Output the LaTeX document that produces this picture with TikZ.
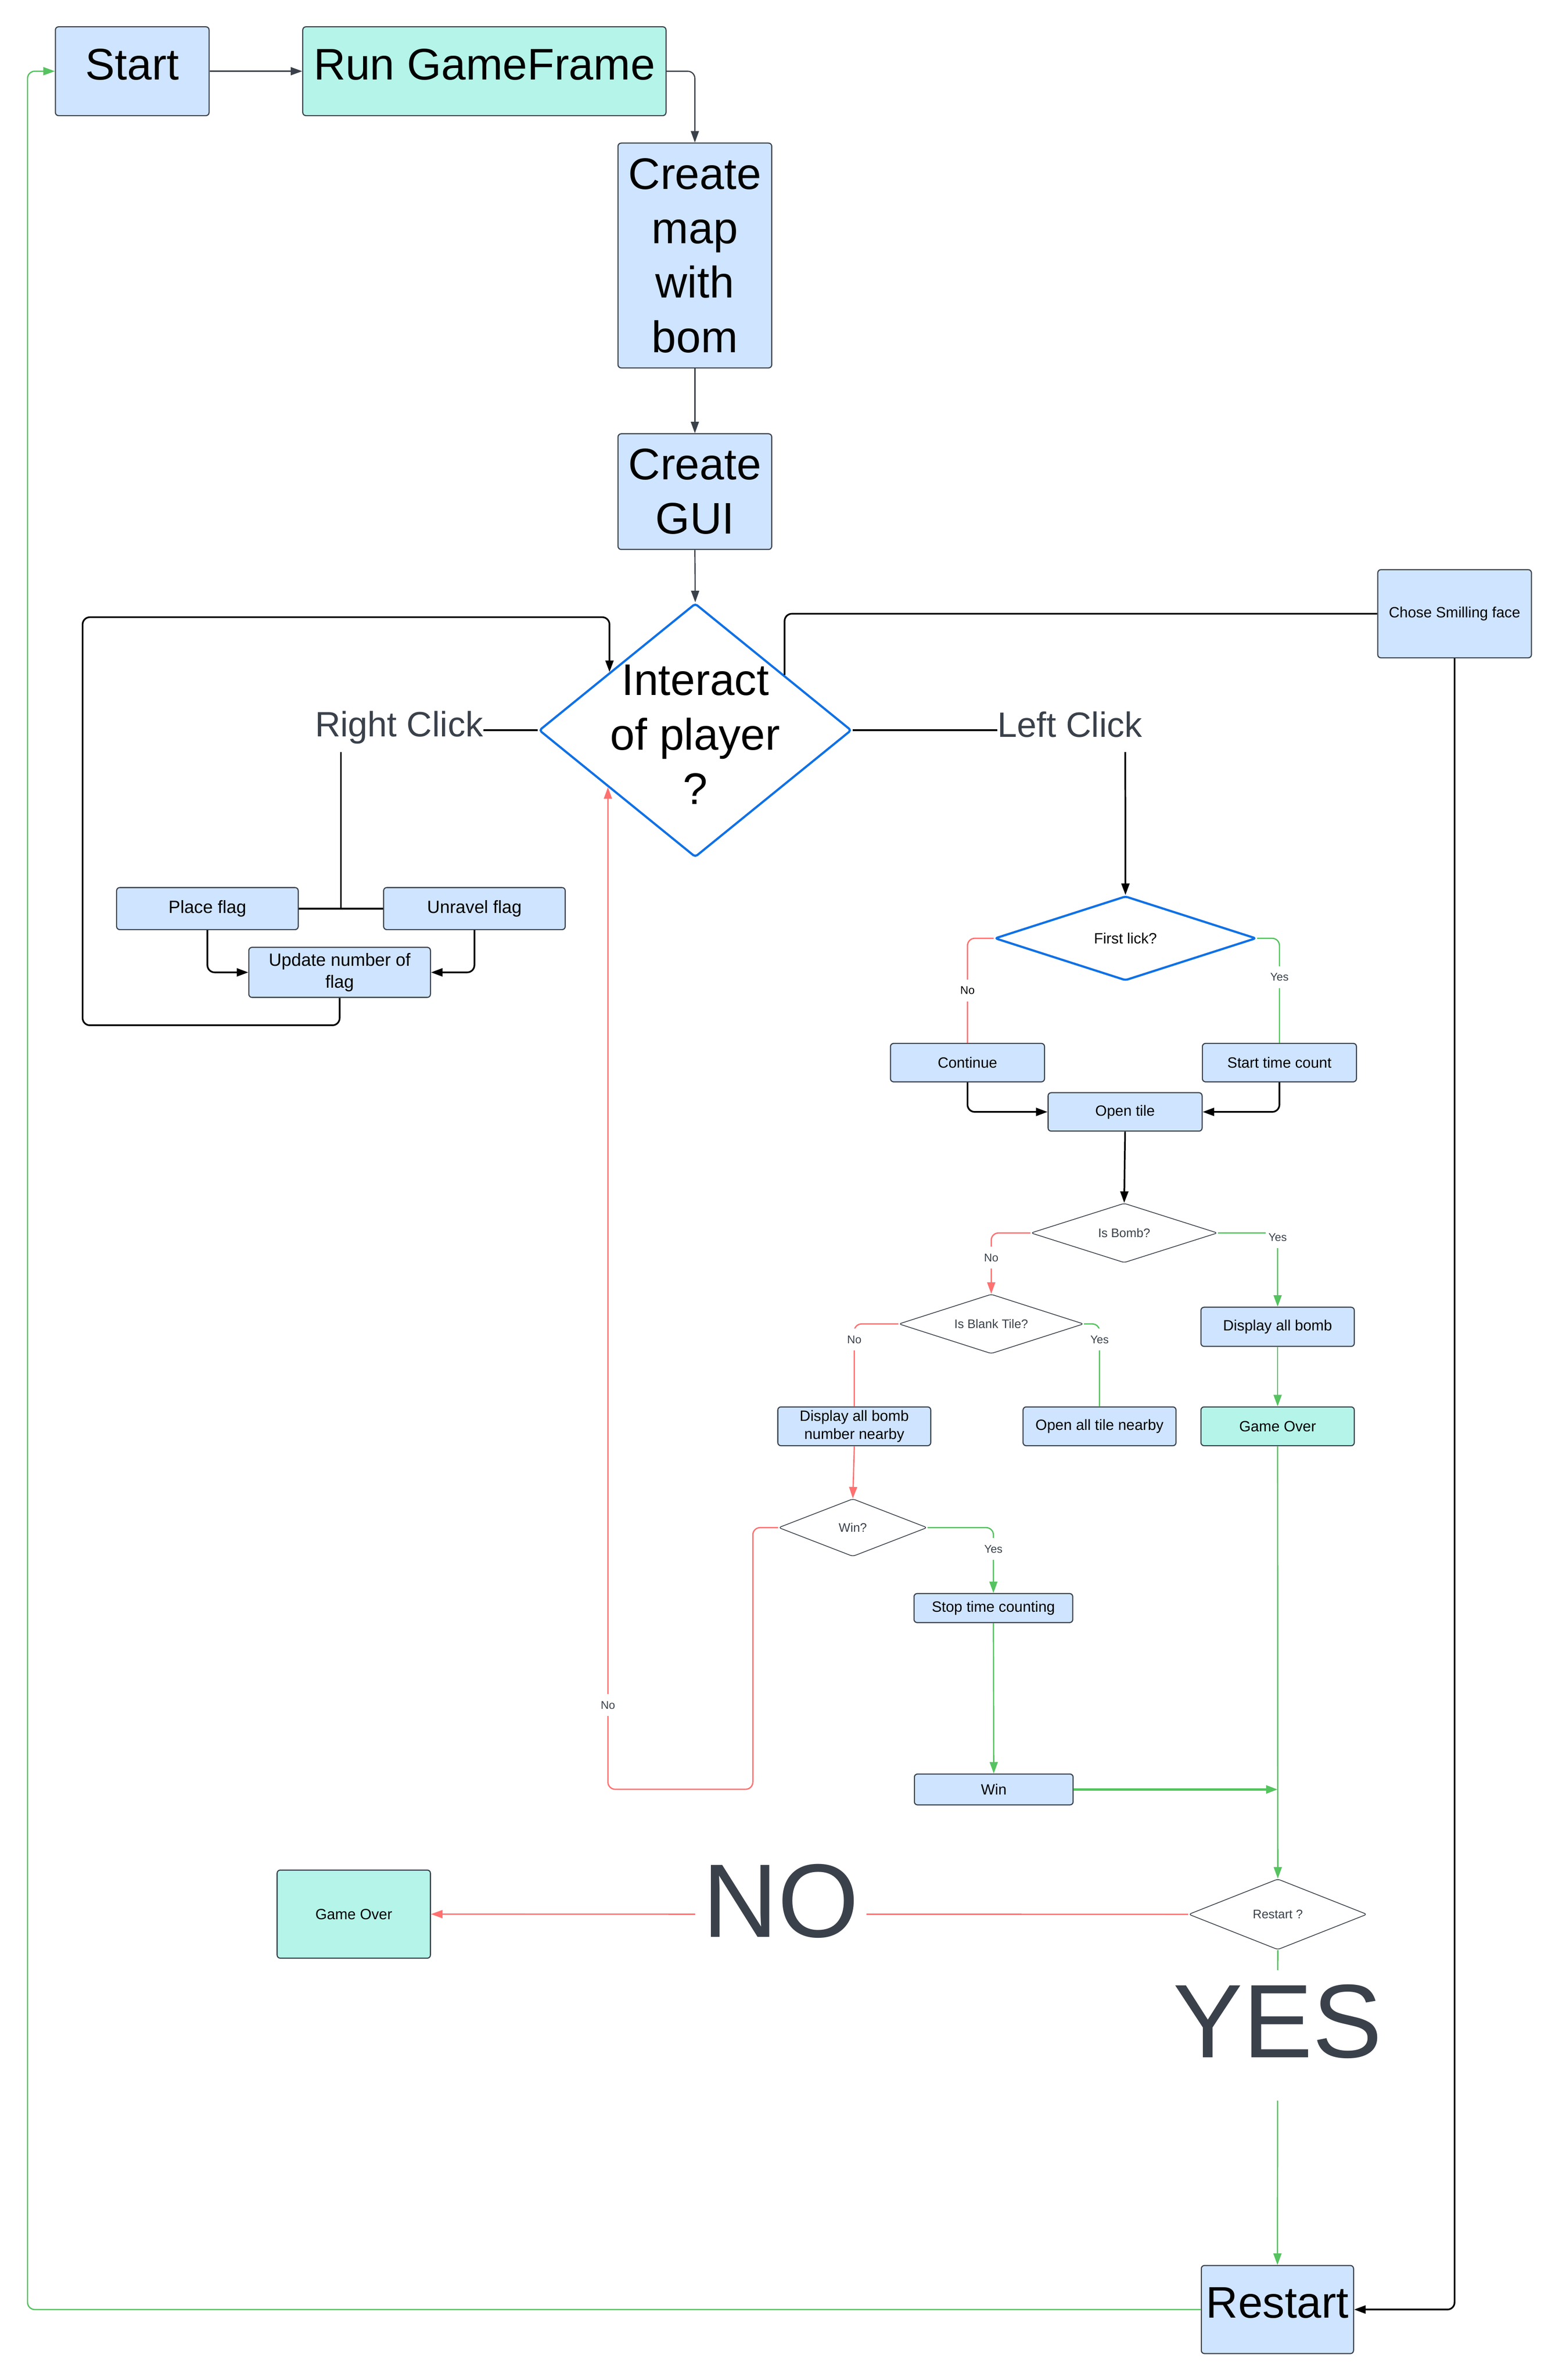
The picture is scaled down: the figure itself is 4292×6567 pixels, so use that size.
\documentclass[tikz,border=0pt]{standalone}
\usepackage{fontspec}
\setmainfont{Liberation Sans}
\usetikzlibrary{shapes.geometric,arrows.meta,calc}
\definecolor{boxblue}{HTML}{CFE4FF}
\definecolor{tealf}{HTML}{B4F4E9}
\definecolor{bord}{HTML}{3A414A}
\definecolor{dblue}{HTML}{1071E5}
\definecolor{lred}{HTML}{FF7070}
\definecolor{lgreen}{HTML}{55C35F}
\definecolor{txtgray}{HTML}{3A414A}
\tikzset{
 box/.style={rectangle, draw=bord, line width=0.85pt, fill=boxblue, rounded corners=2.5pt, inner sep=0pt, align=center, font=\fontsize{11.67}{14}\selectfont},
 tealbox/.style={box, fill=tealf},
 bigtxt/.style={font=\fontsize{34.7}{42.7}\selectfont},
 bigone/.style={text height=24.8pt, text depth=11.4pt},
 flagtxt/.style={font=\fontsize{13.9}{17}\selectfont},
 bdia/.style={diamond, draw=dblue, line width=1.7pt, fill=white, inner sep=0pt, rounded corners=2pt},
 gdia/.style={diamond, draw=bord, line width=0.6pt, fill=white, inner sep=0pt, rounded corners=2pt},
 dtxt/.style={text=txtgray, font=\fontsize{9.7}{12}\selectfont},
 elbl/.style={fill=white, inner xsep=2pt, inner ysep=5.5pt, text=txtgray, font=\fontsize{8.8}{10}\selectfont},
 tip/.style={-{Triangle[length=9pt,width=6.3pt]}},
 gline/.style={draw=bord, line width=0.9pt},
 kline/.style={draw=black, line width=1.3pt, rounded corners=0.2cm},
 rline/.style={draw=lred, line width=1pt, rounded corners=0.2cm},
 grline/.style={draw=lgreen, line width=1pt, rounded corners=0.2cm},
 bigword/.style={fill=white, inner xsep=0.2cm, inner ysep=0pt, text=txtgray, font=\fontsize{82}{90}\selectfont, text height=60pt, text depth=25.3pt},
}
\begin{document}
\begin{tikzpicture}[x=0.01cm, y=-0.01cm]
\useasboundingbox (0,0) rectangle (4292,6567);

% ---------- nodes ----------
\node[box, bigtxt, bigone, minimum width=4.24cm, minimum height=2.45cm] (start) at (365,196.5) {Start};
\node[tealbox, bigtxt, bigone, minimum width=10.02cm, minimum height=2.45cm] (run) at (1337,196.5) {Run GameFrame};
\node[box, bigtxt, minimum width=4.24cm, minimum height=6.2cm] (map) at (1918,705) {Create\\map\\with\\bom};
\node[box, bigtxt, minimum width=4.24cm, minimum height=3.19cm] (gui) at (1918,1356.5) {Create\\GUI};
\node[bdia, minimum width=8.62cm, minimum height=7cm, label={[bigtxt,align=center,yshift=-0.12cm]center:Interact\\of player\\?}] (interact) at (1919,2015) {};
\node[box, minimum width=4.24cm, minimum height=2.43cm] (chose) at (4015,1693.5) {Chose Smilling face};

\node[anchor=base east, inner sep=0pt, text=txtgray, font=\fontsize{27.6}{30}\selectfont] (rc) at (1334,2033) {Right Click};
\node[anchor=base west, inner sep=0pt, text=txtgray, font=\fontsize{27.6}{30}\selectfont] (lc) at (2753,2034) {Left Click};

\node[box, flagtxt, minimum width=5.01cm, minimum height=1.16cm] (place) at (572.5,2507) {Place flag};
\node[box, flagtxt, minimum width=5.01cm, minimum height=1.16cm] (unravel) at (1309.5,2507) {Unravel flag};
\node[box, flagtxt, minimum width=5.01cm, minimum height=1.38cm] (update) at (937.5,2683) {Update number of\\flag};

\node[bdia, minimum width=7.21cm, minimum height=2.33cm, label={[font=\fontsize{11.7}{14}\selectfont]center:First lick?}] (firstlick) at (3106.5,2589) {};
\node[box, minimum width=4.25cm, minimum height=1.06cm] (cont) at (2670.5,2932) {Continue};
\node[box, minimum width=4.25cm, minimum height=1.06cm] (stime) at (3531.5,2932) {Start time count};
\node[box, minimum width=4.25cm, minimum height=1.06cm] (open) at (3105.5,3068) {Open tile};

\node[gdia, minimum width=5.15cm, minimum height=1.64cm, label={[dtxt]center:Is Bomb?}] (isbomb) at (3103,3402) {};
\node[gdia, minimum width=5.1cm, minimum height=1.64cm, label={[dtxt]center:Is Blank Tile?}] (isblank) at (2736,3653) {};
\node[box, minimum width=4.23cm, minimum height=1.08cm] (dispall) at (3526.5,3661) {Display all bomb};
\node[tealbox, minimum width=4.23cm, minimum height=1.07cm] (go1) at (3526.5,3935.5) {Game Over};
\node[box, minimum width=4.22cm, minimum height=1.07cm] (dispnum) at (2358,3935.5) {Display all bomb\\number nearby};
\node[box, minimum width=4.22cm, minimum height=1.07cm] (openall) at (3035,3935.5) {Open all tile nearby};

\node[gdia, minimum width=4.1cm, minimum height=1.59cm, label={[dtxt]center:Win?}] (win) at (2354,4215) {};
\node[box, minimum width=4.38cm, minimum height=0.8cm] (stop) at (2742,4437) {Stop time counting};
\node[box, minimum width=4.38cm, minimum height=0.85cm] (winb) at (2743,4937.5) {Win};

\node[tealbox, minimum width=4.23cm, minimum height=2.43cm] (go2) at (976.5,5281.5) {Game Over};
\node[gdia, minimum width=4.92cm, minimum height=1.95cm, label={[dtxt]center:Restart ?}] (restq) at (3527,5282) {};
\node[box, bigtxt, bigone, minimum width=4.2cm, minimum height=2.43cm] (restart) at (3526,6372.5) {Restart};

% ---------- coordinates ----------
\coordinate (lb) at (228,2829);
\coordinate (lt) at (228,1703);
\coordinate (rcb) at (941,2075);
\coordinate (fj) at (941,2508);
\coordinate (lcb) at (3106,2075);
\coordinate (rl1) at (2078,4937);
\coordinate (gl) at (76,196.5);
\coordinate (wj) at (winb.east -| go1.south);
\coordinate (inw) at ($(interact.west)!0.455!(interact.north)$);
\coordinate (ine) at ($(interact.north)!0.568!(interact.east)$);
\coordinate (isw) at ($(interact.west)!0.445!(interact.south)$);

% ---------- connectors ----------
\draw[gline,tip] (start.east) -- (run.west);
\draw[gline,tip,rounded corners=0.2cm] (run.east) -| (map.north);
\draw[gline,tip] (map.south) -- (gui.north);
\draw[gline,tip] (gui.south) -- (interact.north);

\draw[kline] (interact.west) -- (interact.west -| rc.east);
\draw[kline] (rcb) -- (fj);
\draw[kline] (place.east) -- (unravel.west);
\draw[kline,tip] (place.south) |- (update.west);
\draw[kline,tip] (unravel.south) |- (update.east);
\draw[kline,tip] (update.south) |- (lb) -- (lt) -| (inw);

\draw[kline] (chose.west) -| (ine);
\draw[kline,tip] (chose.south) |- (restart.east);

\draw[kline] (interact.east) -- (interact.east -| lc.west);
\draw[kline,tip] (lcb) -- (firstlick.north);

\draw[rline] (firstlick.west) -| (cont.north);
\draw[grline] (firstlick.east) -| (stime.north);
\draw[kline,tip] (cont.south) |- (open.west);
\draw[kline,tip] (stime.south) |- (open.east);
\draw[kline,tip] (open.south) -- (isbomb.north);

\draw[rline,tip] (isbomb.west) -| (isblank.north);
\draw[grline,tip] (isbomb.east) -| (dispall.north);
\draw[rline] (isblank.west) -| (dispnum.north);
\draw[grline] (isblank.east) -| (openall.north);
\draw[grline,tip] (dispall.south) -- (go1.north);
\draw[rline,tip] (dispnum.south) -- (win.north);
\draw[grline,tip] (win.east) -| (stop.north);
\draw[grline,tip] (stop.south) -- (winb.north);
\draw[grline,tip,line width=1.6pt] (winb.east) -- (wj);
\draw[grline,tip] (go1.south) -- (restq.north);
\draw[rline,tip] (win.west) -| (rl1) -| (isw);

\draw[rline,tip] (restq.west) -- (go2.east);
\draw[grline,tip] (restq.south) -- (restart.north);
\draw[grline,tip] (restart.west) -| (gl) -- (start.west);

% ---------- labels ----------
\node[elbl, text=black] (l1) at (2670.5,2733) {No};
\node[elbl] (l2) at (3531.5,2696) {Yes};
\node[elbl] (l3) at (2736,3470) {No};
\node[elbl] (l4) at (3526.5,3414) {Yes};
\node[elbl] (l5) at (2358,3696) {No};
\node[elbl] (l6) at (3035,3696) {Yes};
\node[elbl] (l7) at (2742,4274) {Yes};
\node[elbl] (l8) at (isw |- 0,4705) {No};
\node[bigword] (nolbl) at (2155,5284) {NO};
\node[bigword, minimum height=3.6cm] (yeslbl) at (3527,5616) {YES};
\end{tikzpicture}
\end{document}
